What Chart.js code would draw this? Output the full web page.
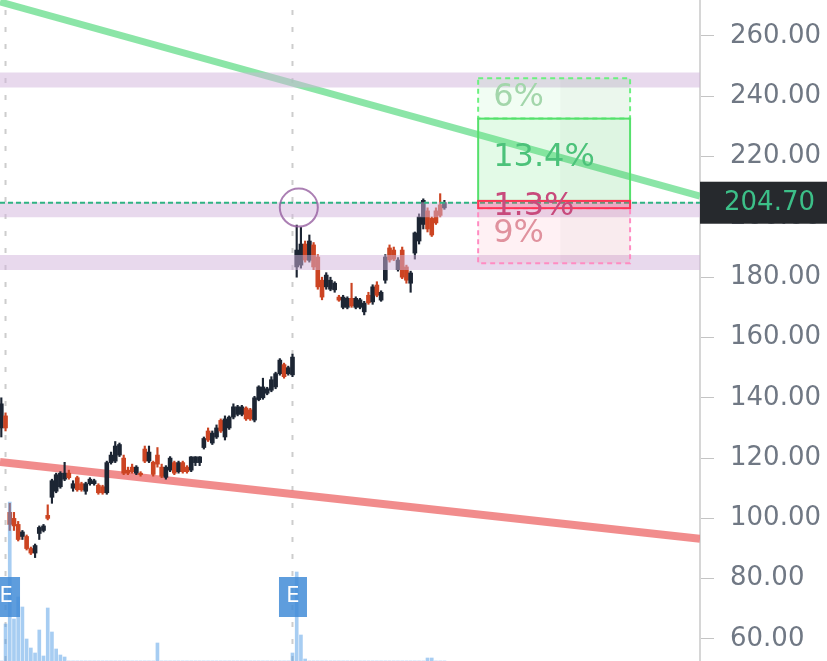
<!DOCTYPE html>
<html>
<head>
<meta charset="utf-8">
<script src="https://cdn.jsdelivr.net/npm/chart.js@4.4.0/dist/chart.umd.min.js"></script>
<style>
  html, body { margin: 0; padding: 0; background: #fff; }
  #wrap { width: 827px; height: 661px; position: relative; }
</style>
</head>
<body>
<div id="wrap"><canvas id="priceChart"></canvas></div>
<script>
// daily candles, oldest first
var opens  = [130,134,102,100,98,94,94,90,88.5,95,96,101,107,109,110.5,113,115,110,113.5,111.5,109,111.5,111.5,111,110.5,108.5,
              118.5,119,121,120,116,117,115,115,123,119,118.6,121,117,113.6,116,118.5,115.5,118.5,117,116,118.5,118.5,123.5,129,125,127,132.5,127,130,133.6,134.5,134.5,136.6,136,132.6,139.4,
              140,141.5,142.5,143.6,148,151,148,147.6,183.4,184,191,185.6,190.7,186.7,179,176.8,176,175.8,173.4,170,170,173,170,170,168.5,174,171.8,177.4,172.4,
              179,189.7,189,182.5,189,183.4,178,188,192,197.5,202,199.5,202,204,203];
var highs  = [140,135,105,102,99,96,94.5,90.5,91.5,97.5,98,104.5,113,115,115.5,118.6,116,112.5,114,112,112,113.5,113,111.5,111,119,
              122,125.5,125,121,117,118,117.5,115.5,124,124,119,123.5,118,117.5,120.5,119,119,119,117.5,120.5,120.5,120.5,127,130,129,131,133,134,134,138,137.5,137.5,137,136.5,140.5,144,
              146.5,143.5,147,148.5,153,151.5,150.5,154.5,197.3,196.5,192,194,191.5,187.5,180,181.5,180,178.5,174,174,173.5,178,173.5,173,172,175,177.5,178.5,175.5,
              187.5,190.7,190,186.5,190,184,182,195,201,206,203,200,203,207.7,205.5];
var lows   = [127,129,96,96,92.5,93,89.5,88,87,93,95.5,99.5,105,108.5,110,112.5,113,109,109,109,108,111,111,108,108,108,
              118,118.5,120.5,114.5,114.5,115,114.5,114,118.5,118.5,114,117,113.5,113,115.5,114.5,115,115,115,115.5,117.5,117.5,123,125.5,124.5,126.5,128.5,126,129.5,133,134,134,132.5,132.5,132,139,
              139.5,141,142,143,147.5,146.5,147.5,147,180,183,185,185,182.5,176,172.5,176,175.5,175,172,169.5,169.5,170,169.5,169.5,167.5,171,171,173.5,172,
              178,185,185.5,182,179.5,178,175,186,191,196,195,193.5,197.5,200,202.5];
var closes = [138,130,98,97.5,93,95.5,90,88.5,91,97,97.5,100,112.5,114.5,115,115,113.5,111.5,109.5,109.5,111.5,113,112.5,108.5,108.5,118.5,
              121,124,124.5,115,115,115.5,117,114.5,119,122,114.6,118,114,117,120,115,118.5,115.5,115.5,120.4,120.4,120.4,126.5,126,128.3,130,129,133,133.6,137,137,137,133,133,140,143.6,
              143.6,143,146,148,152.5,147,150,153.5,189,191,185.7,192,183.4,176.8,173.4,180.7,179,178,172.4,173.4,173,170.5,173,172.5,171.4,171.5,176.8,174,175,
              186.7,185.7,186,185.7,180,179,181.4,194.7,200,205.5,196,194,198,200.5,204.7];
// volume, millions (bars hidden below the pane are left at 0)
var volumes = [0,7.4,31.8,8.4,12.8,10.8,4.4,2.6,1.6,6.2,1.0,10.6,5.8,2.4,1.2,0.8,0,0,0,0,0,0,0,0,0,0,
               0,0,0,0,0,0,0,0,0,0,0,3.6,0,0,0,0,0,0,0,0,0,0,0,0,0,0,0,0,0,0,0,0,0,0,0,0,
               0,0,0,0,0,0,0,1.6,17.8,5.2,0.4,0,0,0,0,0,0,0,0,0,0,0,0,0,0,0,0,0,0,
               0,0,0,0,0,0,0,0,0,0,0.6,0.6,0,0,0];

var yTicks = [60, 80, 100, 120, 140, 160, 180, 200, 220, 240, 260];
var zones = [245.4, 202.4, 184.9];
var earnings = [1, 69];
var greenTrend = [271.3, 206.9];
var redTrend = [118.7, 93.2];
var lastPrice = 204.70;
var pivot = [70.5, 203.1];

// long position tool
var posFrom = 113, posTo = 149;
var posLevels = [246.0, 232.6, 205.3, 202.9, 184.6];
var posLabels = ['6%', '13.4%', '1.3%', '9%'];

var xMin = -0.31, xMax = 165.57;
var yMin = 52.7, yMax = 271.94;

var upColor = '#1c2533', downColor = '#cc4422';

var bodies = [], wicks = [], candleColors = [], vols = [];
for (var i = 0; i < closes.length; i++) {
    bodies.push({x: i, y: [opens[i], closes[i]]});
    wicks.push({x: i, y: [lows[i], highs[i]]});
    candleColors.push(closes[i] >= opens[i] ? upColor : downColor);
    vols.push({x: i, y: volumes[i]});
}

var datasets = [];
earnings.forEach(function(e) {
    datasets.push({
        type: 'line', data: [{x: e, y: yMin}, {x: e, y: yMax}],
        borderColor: '#cdcdcd', borderWidth: 2, borderDash: [5, 12],
        pointRadius: 0, order: 12, clip: 0
    });
});
datasets.push({
    type: 'line', data: [{x: xMin, y: redTrend[0]}, {x: xMax, y: redTrend[1]}],
    borderColor: 'rgba(238,120,120,0.85)', borderWidth: 8, pointRadius: 0, order: 11, clip: 0
});
datasets.push({
    type: 'line', data: [{x: xMin, y: greenTrend[0]}, {x: xMax, y: greenTrend[1]}],
    borderColor: 'rgba(110,222,145,0.8)', borderWidth: 7, pointRadius: 0, order: 11, clip: 0
});
datasets.push({
    type: 'bar', data: wicks, backgroundColor: candleColors, barThickness: 1.5,
    grouped: false, order: 9
});
datasets.push({
    type: 'bar', data: bodies, backgroundColor: candleColors, barThickness: 4,
    grouped: false, order: 8
});
zones.forEach(function(z) {
    datasets.push({
        type: 'line', data: [{x: xMin, y: z}, {x: xMax, y: z}],
        borderColor: 'rgba(210,180,220,0.5)', borderWidth: 15, pointRadius: 0, order: 6, clip: 0
    });
});
datasets.push({
    type: 'bar', data: vols, yAxisID: 'yv', backgroundColor: 'rgba(80,155,230,0.5)',
    barThickness: 3, grouped: false, order: 5
});
datasets.push({
    type: 'line', data: [{x: xMin, y: lastPrice}, {x: xMax, y: lastPrice}],
    borderColor: '#2fb383', borderWidth: 2, borderDash: [5, 3], pointRadius: 0, order: 2, clip: 0
});
datasets.push({
    type: 'line', data: [{x: pivot[0], y: pivot[1]}], showLine: false,
    pointRadius: 19, pointBorderWidth: 2, pointBorderColor: 'rgba(150,95,160,0.8)',
    pointBackgroundColor: 'rgba(0,0,0,0)', order: 1
});

var positionTool = {
    id: 'positionTool',
    afterDatasetsDraw: function(chart) {
        var c = chart.ctx, xs = chart.scales.x, ys = chart.scales.y;
        var x0 = xs.getPixelForValue(posFrom), x1 = xs.getPixelForValue(posTo);
        var py = posLevels.map(function(v) { return ys.getPixelForValue(v); });
        var boxes = [
            {t: py[0], b: py[1], fill: 'rgba(120,240,140,0.1)', line: '#6cf080', dash: [5, 4]},
            {t: py[1], b: py[2], fill: 'rgba(100,230,120,0.18)', line: '#55e06c', dash: []},
            {t: py[2], b: py[3], fill: 'rgba(255,80,110,0.3)', line: '#ff3355', dash: []},
            {t: py[3], b: py[4], fill: 'rgba(255,120,150,0.1)', line: '#ff8cc2', dash: [5, 4]}
        ];
        c.save();
        boxes.forEach(function(bx) {
            c.fillStyle = bx.fill;
            c.fillRect(x0, bx.t, x1 - x0, bx.b - bx.t);
        });
        // faint shaded column on the right part of the tool
        c.fillStyle = 'rgba(0,0,0,0.025)';
        c.fillRect(x0 + (x1 - x0) * 0.54, py[0], (x1 - x0) * 0.46, py[4] - py[0]);
        [0, 3].forEach(function(k) {
            var bx = boxes[k];
            c.setLineDash(bx.dash); c.strokeStyle = bx.line; c.lineWidth = 2;
            c.strokeRect(x0, bx.t, x1 - x0, bx.b - bx.t);
        });
        c.setLineDash([]);
        c.strokeStyle = boxes[1].line; c.lineWidth = 2;
        c.strokeRect(x0, boxes[1].t, x1 - x0, boxes[1].b - boxes[1].t);
        c.strokeStyle = boxes[2].line;
        c.strokeRect(x0, boxes[2].t, x1 - x0, boxes[2].b - boxes[2].t);

        c.font = '32px "DejaVu Sans"';
        c.textBaseline = 'middle';
        c.textAlign = 'left';
        var tx = x0 + 15;
        var tcol = ['#a3d6ab', '#4cc27a', '#c84a7c', '#e0929e'];
        var ty = [98, 158, 207, 234];
        posLabels.forEach(function(t, k) {
            c.fillStyle = tcol[k];
            c.fillText(t, tx, ty[k]);
        });

        // earnings markers
        c.font = '21px "DejaVu Sans"';
        c.textAlign = 'center';
        var bot = chart.chartArea.bottom;
        earnings.forEach(function(e) {
            var ex = xs.getPixelForValue(e) + 0.5;
            c.fillStyle = 'rgba(66,140,215,0.85)';
            c.fillRect(ex - 14, bot - 84, 28, 40);
            c.fillStyle = '#ffffff';
            c.fillText('E', ex, bot - 64);
        });
        c.restore();
    },
    afterDraw: function(chart) {
        var c = chart.ctx, ys = chart.scales.y;
        var y = ys.getPixelForValue(lastPrice);
        c.save();
        c.fillStyle = '#26292d';
        c.fillRect(chart.chartArea.right, y - 21, chart.width - chart.chartArea.right, 42);
        c.fillStyle = '#3cbf88';
        c.font = '26px "DejaVu Sans"';
        c.textAlign = 'left';
        c.textBaseline = 'middle';
        c.fillText(lastPrice.toFixed(2), chart.chartArea.right + 24, y + 1);
        c.restore();
    }
};

var ctx = document.getElementById('priceChart').getContext('2d');
var priceChart = new Chart(ctx, {
    type: 'bar',
    data: { datasets: datasets },
    plugins: [positionTool],
    options: {
        responsive: true,
        maintainAspectRatio: false,
        animation: false,
        layout: { padding: 0, autoPadding: false },
        plugins: { legend: { display: false }, tooltip: { enabled: false } },
        scales: {
            x: {
                type: 'linear', min: xMin, max: xMax, offset: false, display: false
            },
            y: {
                position: 'right',
                min: yMin, max: yMax,
                afterFit: function(s) { s.width = 127; s.paddingTop = 0; s.paddingBottom = 0; },
                afterBuildTicks: function(s) { s.ticks = yTicks.map(function(v) { return {value: v}; }); },
                border: { display: true, color: '#d6d6d6', width: 2 },
                grid: { drawOnChartArea: false, drawTicks: true, tickLength: 14, tickColor: '#c4c4c4', tickWidth: 1 },
                ticks: {
                    autoSkip: false, padding: 16, color: '#707884',
                    font: { family: 'DejaVu Sans', size: 26 },
                    callback: function(v) { return v.toFixed(2); }
                }
            },
            yv: { display: false, min: 0, max: 132.2 }
        }
    }
});
</script>
</body>
</html>
